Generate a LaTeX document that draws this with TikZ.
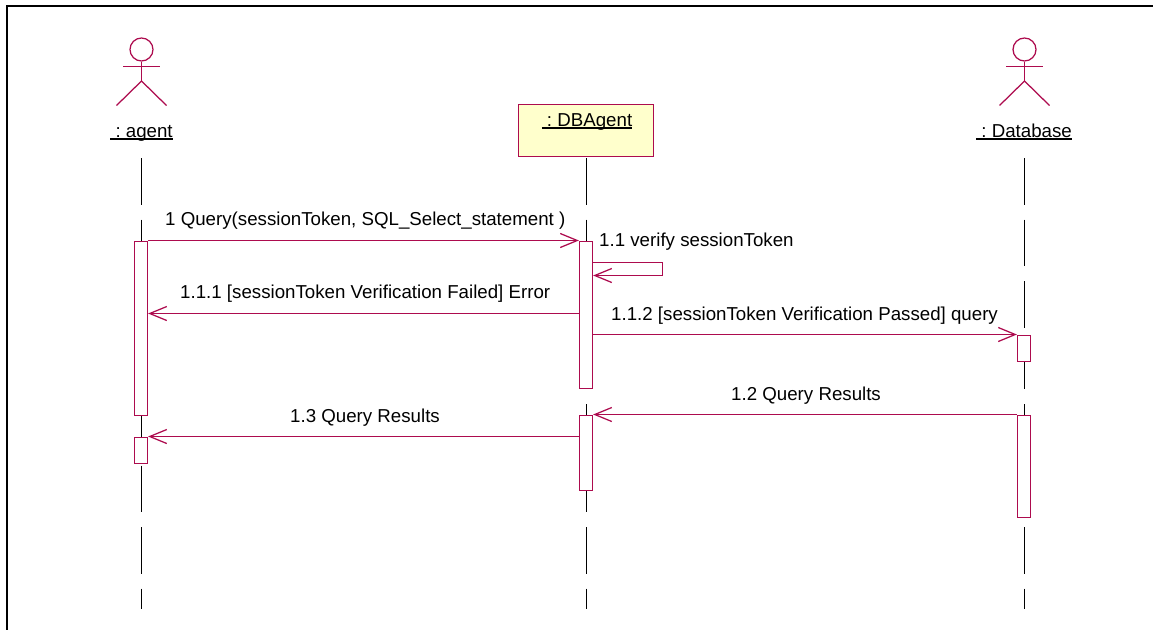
\documentclass[tikz,border=0pt]{standalone}
\usepackage{fontspec}
\setmainfont{Liberation Sans}
\usetikzlibrary{arrows.meta}
\definecolor{umlred}{RGB}{173,11,78}
\definecolor{umlfill}{RGB}{255,255,204}
\newcommand{\objul}[1]{\setbox0=\hbox{#1}\rlap{\rule[-3pt]{\wd0}{1.8pt}}\box0}
\tikzset{
    lifeline/.style={black, line width=1pt, dash pattern=on 46.5pt off 15pt},
    activation/.style={draw=umlred, fill=white, line width=1.25pt, minimum width=13pt, inner sep=0pt, anchor=north},
    msg/.style={umlred, line width=1.25pt, -{Straight Barb[length=17pt,width=14pt,line width=1.25pt]}},
    msgtext/.style={inner sep=0pt, anchor=base west, font=\fontsize{18.7}{22}\selectfont},
    objname/.style={inner sep=0pt, anchor=base, font=\fontsize{18.7}{22}\selectfont},
    stick/.style={umlred, line width=1.25pt}
}
\begin{document}
\begin{tikzpicture}[x=1pt, y=-1pt]
    \useasboundingbox (0,0) rectangle (1153,630);

    \draw[line width=2pt] (1153,6) -- (7,6) -- (7,630);

    % actors
    \foreach \name/\xpos in {agent/141.5, db/1024.5} {
        \node[draw=umlred, circle, line width=1.25pt, minimum size=23pt, inner sep=0pt] (\name head) at (\xpos,49.5) {};
        \coordinate (\name hip) at (\xpos,81);
        \coordinate (\name armL) at (\xpos-18.5,66.5);
        \coordinate (\name armR) at (\xpos+18.5,66.5);
        \coordinate (\name footL) at (\xpos-25,105.5);
        \coordinate (\name footR) at (\xpos+25,105.5);
        \draw[stick] (\name head.south) -- (\name hip);
        \draw[stick] (\name armL) -- (\name armR);
        \draw[stick] (\name footL) -- (\name hip) -- (\name footR);
    }
    \node[objname] (agentname) at (141.5,137) {\objul{\ :\ agent}};
    \node[objname] (dbname) at (1024,137) {\objul{\ :\ Database}};

    \node[draw=umlred, fill=umlfill, line width=1.25pt, minimum width=135pt, minimum height=52pt, inner sep=0pt] (dbagent) at (586,130.5) {};
    \node[objname] (dbagentname) at (587,126) {\objul{\ :\ DBAgent}};

    % lifelines
    \coordinate (agenttop) at (141.5,158);
    \coordinate (agentend) at (141.5,608.5);
    \coordinate (dbagenttop) at (586.5,158);
    \coordinate (dbagentend) at (586.5,608.5);
    \coordinate (dbtop) at (1024.5,158);
    \coordinate (dbend) at (1024.5,608.5);
    \draw[lifeline] (agenttop) -- (agentend);
    \draw[lifeline] (dbagenttop) -- (dbagentend);
    \draw[lifeline] (dbtop) -- (dbend);

    % activation bars
    \node[activation, minimum height=174pt] (agentA) at (141,240.5) {};
    \node[activation, minimum height=26pt] (agentB) at (141,436.5) {};
    \node[activation, minimum height=147pt] (dbagentA) at (586,240.5) {};
    \node[activation, minimum height=75pt] (dbagentB) at (586,414.5) {};
    \node[activation, minimum height=26pt] (dbA) at (1024,334.5) {};
    \node[activation, minimum height=102pt] (dbB) at (1024,414.5) {};

    % messages
    \draw[msg] (agentA.north east) -- (dbagentA.north west);
    \draw[msg] ([yshift=-22pt]dbagentA.north east) -- ++(69.5,0) -- ++(0,13) -- ([yshift=-35pt]dbagentA.north east);
    \draw[msg] ([yshift=-73pt]dbagentA.north west) -- ([yshift=-73pt]agentA.north east);
    \draw[msg] ([yshift=-94pt]dbagentA.north east) -- (dbA.north west);
    \draw[msg] (dbB.north west) -- (dbagentB.north east);
    \draw[msg] ([yshift=-22pt]dbagentB.north west) -- (agentB.north east);

    \node[msgtext] (q1) at (165,225.5) {1 Query(sessionToken, SQL\_Select\_statement )};
    \node[msgtext] (q11) at (599,246.5) {1.1 verify sessionToken};
    \node[msgtext] (q111) at (180,298) {1.1.1 [sessionToken Verification Failed] Error};
    \node[msgtext] (q112) at (611,320) {1.1.2 [sessionToken Verification Passed] query};
    \node[msgtext] (q12) at (731,400) {1.2 Query Results};
    \node[msgtext] (q13) at (290,422) {1.3 Query Results};
\end{tikzpicture}
\end{document}
